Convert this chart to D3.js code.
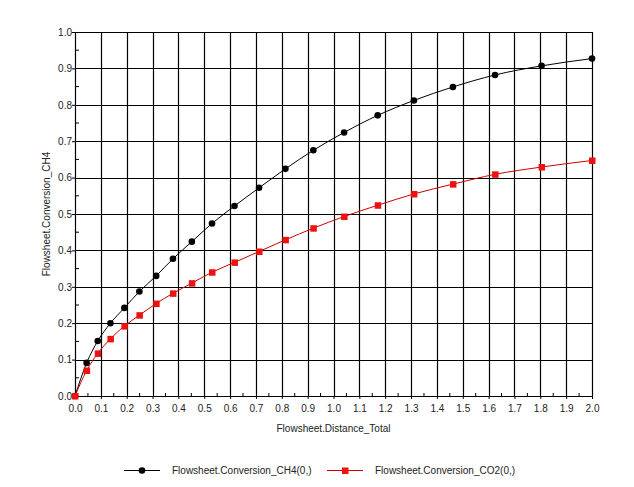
<!DOCTYPE html>
<html>
<head>
<meta charset="utf-8">
<script src="https://cdn.jsdelivr.net/npm/d3@7"></script>
<style>
  body { margin: 0; background: #fff; }
  svg text { font-family: "Liberation Sans", Arial, sans-serif; font-size: 10px; fill: #222; }
</style>
</head>
<body>
<div id="chart"></div>
<script>
// values
var distance = [0, 0.045, 0.088, 0.137, 0.191, 0.249, 0.314, 0.379, 0.452, 0.530, 0.617,
                0.712, 0.814, 0.922, 1.041, 1.171, 1.311, 1.462, 1.625, 1.805, 2.0];
var convCH4 = [0, 0.091, 0.151, 0.200, 0.242, 0.287, 0.330, 0.377, 0.424, 0.474, 0.522,
               0.572, 0.624, 0.675, 0.724, 0.771, 0.812, 0.849, 0.882, 0.907, 0.927];
var convCO2 = [0, 0.070, 0.117, 0.157, 0.192, 0.222, 0.254, 0.282, 0.310, 0.340, 0.367,
               0.397, 0.429, 0.461, 0.493, 0.524, 0.555, 0.582, 0.609, 0.629, 0.647];
var seriesNames = ['Flowsheet.Conversion_CH4(0,)', 'Flowsheet.Conversion_CO2(0,)'];
var xTitle = 'Flowsheet.Distance_Total';
var yTitle = 'Flowsheet.Conversion_CH4';

var width = 634, height = 487;
var margin = {left: 75, top: 32, right: 42, bottom: 91};
var w = width - margin.left - margin.right;
var h = height - margin.top - margin.bottom;

var svg = d3.select('#chart')
  .append('svg')
  .attr('width', width)
  .attr('height', height);

var g = svg.append('g')
  .attr('transform', 'translate(' + margin.left + ',' + margin.top + ')');

var x = d3.scaleLinear().domain([0, 2]).range([0, w]);
var y = d3.scaleLinear().domain([0, 1]).range([h, 0]);

var majorX = d3.range(0, 21).map(function(i) { return i / 10; });
var majorY = d3.range(0, 11).map(function(i) { return i / 10; });
var minorX = d3.range(0, 20).map(function(i) { return i / 10 + 0.05; });
var minorY = d3.range(0, 10).map(function(i) { return i / 10 + 0.05; });

// grid
g.append('g').selectAll('line')
  .data(majorX.slice(1))
  .enter().append('line')
  .attr('x1', function(d) { return Math.round(x(d)) + 0.5; })
  .attr('x2', function(d) { return Math.round(x(d)) + 0.5; })
  .attr('y1', 0).attr('y2', h)
  .attr('stroke', '#000').attr('stroke-width', 1.2);

g.append('g').selectAll('line')
  .data(majorY.slice(1))
  .enter().append('line')
  .attr('y1', function(d) { return Math.round(y(d)) + 0.5; })
  .attr('y2', function(d) { return Math.round(y(d)) + 0.5; })
  .attr('x1', 0).attr('x2', w)
  .attr('stroke', '#000').attr('stroke-width', 1.2);

// axes
var xAxis = g.append('g')
  .attr('transform', 'translate(0,' + h + ')')
  .call(d3.axisBottom(x).tickValues(majorX).tickSize(3).tickSizeOuter(0)
    .tickFormat(d3.format('.1f')));
xAxis.append('g').selectAll('line')
  .data(minorX).enter().append('line')
  .attr('x1', function(d) { return x(d); })
  .attr('x2', function(d) { return x(d); })
  .attr('y1', 0).attr('y2', -3)
  .attr('stroke', '#000');

var yAxis = g.append('g')
  .call(d3.axisLeft(y).tickValues(majorY).tickSize(3).tickSizeOuter(0)
    .tickFormat(d3.format('.1f')));
yAxis.append('g').selectAll('line')
  .data(minorY).enter().append('line')
  .attr('y1', function(d) { return y(d); })
  .attr('y2', function(d) { return y(d); })
  .attr('x1', 0).attr('x2', 4)
  .attr('stroke', '#000');

g.selectAll('.domain').attr('stroke', '#000').attr('stroke-width', 1.2);
g.selectAll('.tick text').style('font-size', '10px').attr('fill', '#222');
xAxis.selectAll('.tick text').attr('dy', '0.95em');
yAxis.selectAll('.tick text').attr('x', -3);

// axis titles
svg.append('text')
  .attr('x', margin.left + w / 2)
  .attr('y', 432)
  .attr('text-anchor', 'middle')
  .text(xTitle);

svg.append('text')
  .attr('transform', 'translate(50,' + (margin.top + h / 2) + ') rotate(-90)')
  .attr('text-anchor', 'middle')
  .text(yTitle);

// series
var series = [
  {name: seriesNames[0], values: convCH4, line: '#000', fill: '#000', shape: 'circle'},
  {name: seriesNames[1], values: convCO2, line: '#cc0000', fill: '#ee1111', shape: 'square'}
];

var line = d3.line()
  .x(function(d) { return x(d[0]); })
  .y(function(d) { return y(d[1]); })
  .curve(d3.curveMonotoneX);

function drawMarker(sel, s) {
  if (s.shape === 'circle') {
    sel.append('circle').attr('r', 3.3).attr('fill', s.fill);
  } else {
    sel.append('rect').attr('x', -3).attr('y', -3)
      .attr('width', 6.5).attr('height', 6.5).attr('fill', s.fill);
  }
}

series.forEach(function(s) {
  var pts = distance.map(function(d, i) { return [d, s.values[i]]; });
  g.append('path')
    .datum(pts)
    .attr('d', line)
    .attr('fill', 'none')
    .attr('stroke', s.line)
    .attr('stroke-width', 1);
  g.append('g').selectAll('g')
    .data(pts).enter().append('g')
    .attr('transform', function(d) { return 'translate(' + x(d[0]) + ',' + y(d[1]) + ')'; })
    .each(function() { drawMarker(d3.select(this), s); });
});

// legend
var legendX = [124, 327];
series.forEach(function(s, i) {
  var lg = svg.append('g').attr('transform', 'translate(' + legendX[i] + ',470)');
  lg.append('line').attr('x1', 0).attr('x2', 36).attr('y1', 0.5).attr('y2', 0.5)
    .attr('stroke', s.line).attr('stroke-width', 1.2);
  var m = lg.append('g').attr('transform', 'translate(18,0.5)');
  drawMarker(m, s);
  lg.append('text').attr('x', 48).attr('y', 4).text(s.name);
});
</script>
</body>
</html>
